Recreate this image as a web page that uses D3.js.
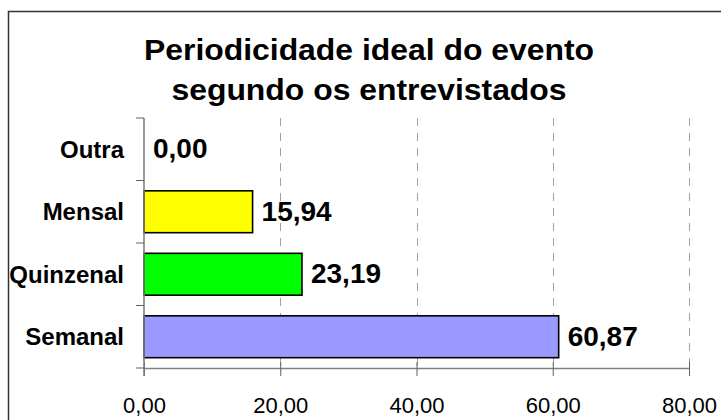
<!DOCTYPE html>
<html>
<head>
<meta charset="utf-8">
<script src="https://cdn.jsdelivr.net/npm/d3@7"></script>
<style>
  body { margin: 0; background: #fff; }
  text { font-family: "Liberation Sans", Arial, sans-serif; }
</style>
</head>
<body>
<div id="graph"></div>
<script>
// chart values
var categories = ["Outra", "Mensal", "Quinzenal", "Semanal"];
var values = [0.00, 15.94, 23.19, 60.87];
var barColors = ["#ffffff", "#ffff00", "#00ff00", "#9999ff"];
var xTicks = [0, 20, 40, 60, 80];
var titleLines = ["Periodicidade ideal do evento", "segundo os entrevistados"];

var fmt = function(v) { return v.toFixed(2).replace(".", ","); };

var svg = d3.select("#graph").append("svg")
    .attr("width", 721)
    .attr("height", 420);

// outer frame
svg.append("rect")
    .attr("x", 8.5)
    .attr("y", 11.5)
    .attr("width", 740)
    .attr("height", 440)
    .style("fill", "#fff")
    .style("stroke", "#333")
    .style("stroke-width", 1.5);

// title
svg.append("g").selectAll("text")
    .data(titleLines)
    .enter().append("text")
    .attr("transform", function(d, i) { return "translate(369," + (60 + i * 40) + ") scale(1.1,1)"; })
    .attr("text-anchor", "middle")
    .style("font-size", "29px")
    .style("font-weight", "bold")
    .text(function(d) { return d; });

var x = d3.scaleLinear().domain([0, 80]).range([144, 689]);
var y = d3.scaleBand().domain(categories).range([118, 368])
    .paddingInner(0.33).paddingOuter(0.165);

// dashed gridlines
svg.append("g").selectAll("line")
    .data(xTicks.slice(1))
    .enter().append("line")
    .attr("x1", function(d) { return Math.round(x(d)) + 0.5; })
    .attr("x2", function(d) { return Math.round(x(d)) + 0.5; })
    .attr("y1", 118)
    .attr("y2", 368)
    .style("stroke", "#a0a0a0")
    .style("stroke-width", 1)
    .style("stroke-dasharray", "8,7");

// bars
svg.append("g").selectAll("rect")
    .data(values)
    .enter().append("rect")
    .filter(function(d) { return d > 0; })
    .attr("x", x(0))
    .attr("y", function(d) { return y(categories[values.indexOf(d)]); })
    .attr("width", function(d) { return x(d) - x(0); })
    .attr("height", y.bandwidth())
    .style("fill", function(d) { return barColors[values.indexOf(d)]; })
    .style("stroke", "#000")
    .style("stroke-width", 1.6);

// x axis
var xAxis = svg.append("g")
    .attr("transform", "translate(0,368)")
    .call(d3.axisBottom(x).tickValues(xTicks).tickFormat(fmt).tickSizeOuter(0));
xAxis.select(".domain").style("stroke", "#808080").style("stroke-width", 1.6);
xAxis.selectAll(".tick line")
    .attr("y1", -6).attr("y2", 8)
    .style("stroke", "#606060").style("stroke-width", 1);
xAxis.selectAll(".tick text")
    .attr("y", 45).attr("dy", 0)
    .style("font-size", "22px")
    .style("font-family", "'Liberation Sans', Arial, sans-serif")
    .style("fill", "#000");

// y axis
var yAxis = svg.append("g")
    .attr("transform", "translate(144,0)");
yAxis.append("line")
    .attr("x1", 0).attr("x2", 0)
    .attr("y1", 118).attr("y2", 376)
    .style("stroke", "#808080").style("stroke-width", 1.6);
yAxis.selectAll(".ytick")
    .data(d3.range(categories.length + 1))
    .enter().append("line")
    .attr("class", "ytick")
    .attr("x1", -8).attr("x2", 0)
    .attr("y1", function(i) { return 118 + i * y.step(); })
    .attr("y2", function(i) { return 118 + i * y.step(); })
    .style("stroke", "#606060").style("stroke-width", 1);

// category labels
svg.append("g").selectAll("text")
    .data(categories)
    .enter().append("text")
    .attr("x", 124)
    .attr("y", function(d) { return y(d) + y.bandwidth() / 2; })
    .attr("dy", "0.35em")
    .attr("text-anchor", "end")
    .style("font-size", "24px")
    .style("font-weight", "bold")
    .text(function(d) { return d; });

// value labels
svg.append("g").selectAll("text")
    .data(values)
    .enter().append("text")
    .attr("x", function(d) { return x(d) + 9; })
    .attr("y", function(d, i) { return y(categories[i]) + y.bandwidth() / 2; })
    .attr("dy", "0.33em")
    .style("font-size", "28px")
    .style("font-weight", "bold")
    .text(function(d) { return fmt(d); });
</script>
</body>
</html>
